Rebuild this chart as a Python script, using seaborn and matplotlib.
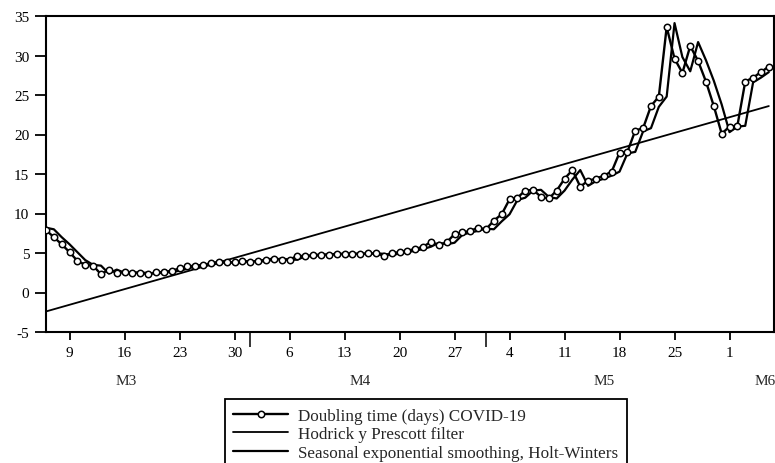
import matplotlib
matplotlib.use('Agg')
from matplotlib import pyplot as plt
import matplotlib.dates as mdates
import pandas as pd
import seaborn as sns

start_date = '2020-03-06'

# daily values, Mar 6 .. Jun 6
doubling_time = [7.9, 7.0, 6.1, 5.1, 4.0, 3.5, 3.4, 2.3, 2.9, 2.5,
                 2.55, 2.5, 2.5, 2.3, 2.55, 2.6, 2.75, 3.05, 3.3, 3.4,
                 3.5, 3.7, 3.9, 3.8, 3.8, 4.0, 3.9, 4.0, 4.15, 4.3,
                 4.15, 4.15, 4.65, 4.6, 4.75, 4.8, 4.8, 4.9, 4.9, 4.9,
                 4.9, 4.95, 4.95, 4.65, 5.0, 5.1, 5.3, 5.5, 5.8, 6.4,
                 6.0, 6.35, 7.4, 7.6, 7.8, 8.2, 8.0, 9.1, 9.9, 11.8,
                 12.0, 12.9, 13.0, 12.1, 11.9, 12.9, 14.4, 15.5, 13.4, 14.15,
                 14.4, 14.8, 15.3, 17.7, 17.8, 20.5, 20.8, 23.6, 24.8, 33.6,
                 29.6, 27.8, 31.2, 29.3, 26.7, 23.6, 20.1, 21.0, 21.1, 26.7,
                 27.2, 27.9, 28.6]

holt_winters = [8.2, 8.0, 7.0, 6.1, 5.1, 4.1, 3.5, 3.4, 2.4, 2.9,
                2.5, 2.55, 2.5, 2.5, 2.35, 2.55, 2.6, 2.75, 3.0, 3.3,
                3.4, 3.5, 3.7, 3.85, 3.8, 3.8, 4.0, 3.9, 4.0, 4.15,
                4.3, 4.15, 4.15, 4.6, 4.6, 4.75, 4.8, 4.8, 4.9, 4.9,
                4.9, 4.9, 4.95, 4.9, 4.7, 4.95, 5.1, 5.3, 5.5, 5.8,
                6.3, 6.1, 6.3, 7.3, 7.6, 7.8, 8.1, 8.0, 9.0, 9.9,
                11.7, 12.0, 12.9, 13.0, 12.1, 11.9, 12.9, 14.3, 15.5, 13.5,
                14.1, 14.4, 14.8, 15.3, 17.6, 17.8, 20.4, 20.8, 23.5, 24.8,
                34.1, 29.8, 28.0, 31.7, 29.4, 26.8, 23.8, 20.3, 21.0, 21.1,
                26.6, 27.2, 27.9]

hp_dates = ['2020-03-06', '2020-06-06']
hp_values = [-2.4, 23.6]

month_labels = ['M3', 'M4', 'M5', 'M6']
month_label_dates = ['2020-03-16 06:00', '2020-04-15', '2020-05-16', '2020-06-05 12:00']
y_ticks = [-5, 0, 5, 10, 15, 20, 25, 30, 35]

dates = pd.date_range(start_date, periods=len(doubling_time), freq='D')
df = pd.DataFrame({'date': dates, 'doubling': doubling_time, 'hw': holt_winters})
hp_df = pd.DataFrame({'date': pd.to_datetime(hp_dates), 'hp': hp_values})

sns.set_style('ticks')
plt.rcParams['font.family'] = ['Liberation Serif', 'DejaVu Serif']
plt.rcParams['axes.unicode_minus'] = False

fig = plt.figure(figsize=(7.75, 4.64), dpi=100)
ax = fig.add_axes([46 / 775, 1 - 333 / 464, 728 / 775, 316 / 464])

sns.lineplot(data=df, x='date', y='doubling', ax=ax, color='black', lw=1.7,
             marker='o', markersize=4.6, markerfacecolor='white',
             markeredgecolor='black', markeredgewidth=1.1, zorder=3,
             label='Doubling time (days) COVID-19')
sns.lineplot(data=hp_df, x='date', y='hp', ax=ax, color='black', lw=1.3,
             label='Hodrick y Prescott filter')
sns.lineplot(data=df, x='date', y='hw', ax=ax, color='black', lw=1.6,
             label='Seasonal exponential smoothing, Holt-Winters')

x0 = pd.Timestamp(start_date)
ax.set_xlim(x0, x0 + pd.Timedelta(days=92.66))
ax.set_ylim(-5, 35)
ax.set_yticks(y_ticks)
ax.set_xlabel('')
ax.set_ylabel('')

ax.xaxis.set_major_locator(mdates.WeekdayLocator(byweekday=mdates.MO))
ax.xaxis.set_major_formatter(mdates.DateFormatter('%-d'))
ax.xaxis.set_minor_locator(mdates.MonthLocator())

for sp in ax.spines.values():
    sp.set_linewidth(1.5)
    sp.set_color('black')
ax.tick_params(axis='y', direction='out', length=8, width=1.3, pad=4,
               labelsize=11, colors='black')
ax.tick_params(axis='x', which='major', direction='out', length=6, width=1.3,
               pad=4, labelsize=11, colors='black')
ax.tick_params(axis='x', which='minor', direction='out', length=11, width=1.3)

for lab, d in zip(month_labels, month_label_dates):
    ax.text(mdates.date2num(pd.Timestamp(d)), -0.152, lab, transform=ax.get_xaxis_transform(),
            ha='center', va='center', fontsize=11)

leg = ax.legend(loc='upper center', bbox_to_anchor=(426 / 775, 1 - 400 / 464),
                bbox_transform=fig.transFigure, frameon=True, fancybox=False,
                edgecolor='black', framealpha=1, fontsize=12.3, handlelength=3.2,
                handletextpad=0.6, labelspacing=0.15, borderpad=0.5,
                borderaxespad=0)
leg.get_frame().set_linewidth(1.3)

plt.savefig('out.png', dpi=100)
